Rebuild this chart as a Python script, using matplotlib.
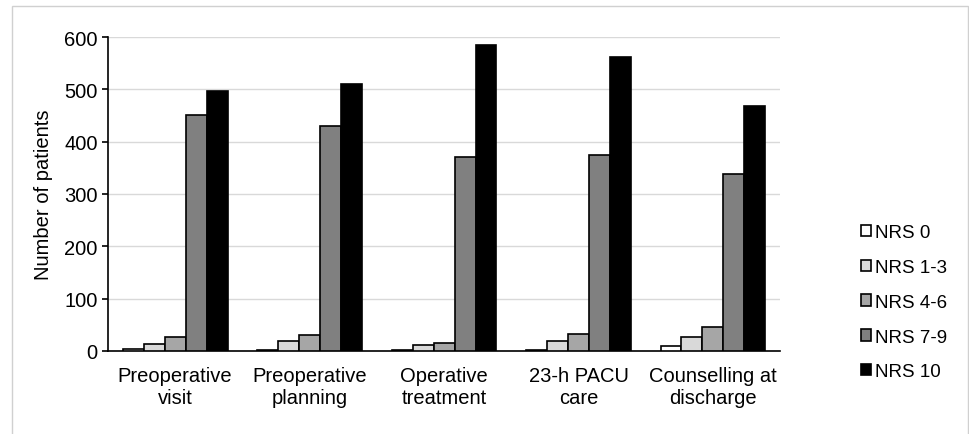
import numpy as np
import matplotlib.pyplot as plt
from matplotlib.patches import Rectangle

plt.rcParams['font.family'] = ['Liberation Sans', 'DejaVu Sans']

categories = ["Preoperative\nvisit", "Preoperative\nplanning", "Operative\ntreatment",
              "23-h PACU\ncare", "Counselling at\ndischarge"]
series = ["NRS 0", "NRS 1-3", "NRS 4-6", "NRS 7-9", "NRS 10"]
nrs0 = [3, 2, 2, 2, 10]
nrs1_3 = [14, 18, 12, 18, 27]
nrs4_6 = [26, 30, 15, 32, 45]
nrs7_9 = [450, 430, 371, 375, 338]
nrs10 = [496, 511, 584, 562, 468]
values = [nrs0, nrs1_3, nrs4_6, nrs7_9, nrs10]
colors = ["#ffffff", "#d9d9d9", "#a6a6a6", "#808080", "#000000"]

fig = plt.figure(figsize=(9.7, 4.35), dpi=100)
ax = fig.add_axes([0.1113, 0.191, 0.693, 0.7216])

# light frame around the whole chart
fig.patches.append(Rectangle((0.012, -0.01), 0.986, 0.993, transform=fig.transFigure,
                             fill=False, edgecolor="#d0d0d0", linewidth=1))

x = np.arange(len(categories))
w = 0.156
for i, (name, vals, c) in enumerate(zip(series, values, colors)):
    ax.bar(x + (i - 2) * w, vals, w, color=c, edgecolor="black", linewidth=1.2,
           label=name, zorder=3)

ax.set_xlim(-0.5, len(categories) - 0.5)
ax.set_ylim(0, 600)
ax.set_yticks(range(0, 601, 100))
ax.yaxis.grid(True, color="#d9d9d9", linewidth=1, zorder=0)
ax.set_xticks(x)
ax.set_xticklabels(categories, fontsize=14.5, linespacing=1.2)
ax.tick_params(axis="x", length=0, pad=11)
ax.tick_params(axis="y", labelsize=14.5, length=4, width=1.2, direction="out")
for s in ["top", "right"]:
    ax.spines[s].set_visible(False)
ax.spines["left"].set_linewidth(1.2)
ax.spines["bottom"].set_linewidth(1.2)
ax.set_ylabel("Number of patients", fontsize=14.5, labelpad=8)

ax.legend(loc="center left", bbox_to_anchor=(1.095, 0.155), frameon=False,
          fontsize=13.5, handlelength=0.55, handleheight=0.55, handletextpad=0.2,
          labelspacing=0.95)

fig.savefig("out.png", dpi=100)
